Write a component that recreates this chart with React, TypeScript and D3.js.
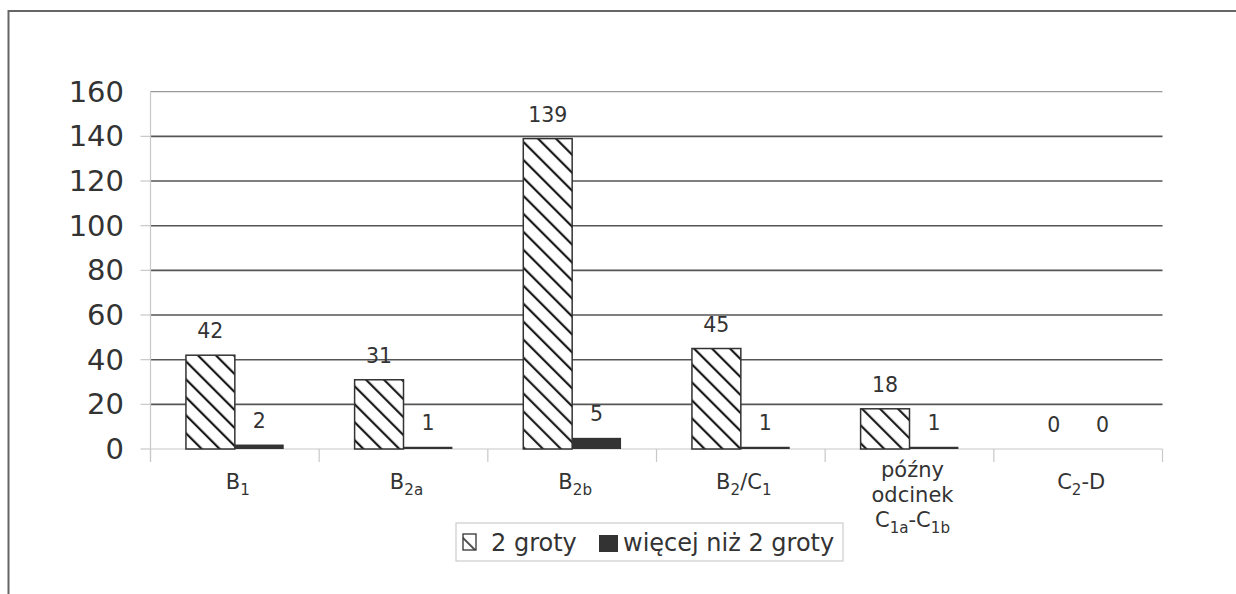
import React from "react";
import * as d3 from "d3";

const categories = ["B1", "B2a", "B2b", "B2/C1", "późny odcinek C1a-C1b", "C2-D"];
const series1Name = "2 groty";
const series2Name = "więcej niż 2 groty";
const series1 = [42, 31, 139, 45, 18, 0];
const series2 = [2, 1, 5, 1, 1, 0];
const yTicks = [0, 20, 40, 60, 80, 100, 120, 140, 160];

// Label pieces: [text, isSubscript]
const labelLines: [string, boolean][][][] = [
  [[["B", false], ["1", true]]],
  [[["B", false], ["2a", true]]],
  [[["B", false], ["2b", true]]],
  [[["B", false], ["2", true], ["/C", false], ["1", true]]],
  [
    [["późny", false]],
    [["odcinek", false]],
    [["C", false], ["1a", true], ["-C", false], ["1b", true]],
  ],
  [[["C", false], ["2", true], ["-D", false]]],
];

const W = 1236;
const H = 594;
const plotLeft = 150.5;
const plotRight = 1162.5;
const plotTop = 91.7;
const plotBottom = 449;
const FONT = "'DejaVu Sans', sans-serif";
const TXT = "#333";

export default function App() {
  const x0 = d3.scaleBand<number>().domain(d3.range(categories.length)).range([plotLeft, plotRight]).paddingInner(0).paddingOuter(0);
  const bw = x0.bandwidth();
  const barW = bw / 3.45;
  const y = d3.scaleLinear().domain([0, 160]).range([plotBottom, plotTop]);

  const renderPieces = (pieces: [string, boolean][], fs: number) =>
    pieces.map(([t, sub], i) => {
      const prev = i > 0 ? pieces[i - 1][1] : false;
      let dy = 0;
      if (sub && !prev) dy = fs * 0.3;
      else if (!sub && prev) dy = -fs * 0.3;
      return (
        <tspan key={i} dy={dy} fontSize={sub ? fs * 0.72 : fs}>
          {t}
        </tspan>
      );
    });

  return (
    <svg width={W} height={H} style={{ position: "absolute", left: 0, top: 0, background: "#fff" }} fontFamily={FONT}>
      <defs>
        <pattern id="hatch" patternUnits="userSpaceOnUse" width={12.7} height={12.7} patternTransform="rotate(-45)">
          <rect width={12.7} height={12.7} fill="#fff" />
          <line x1={3} y1={0} x2={3} y2={12.7} stroke="#1a1a1a" strokeWidth={2.2} />
        </pattern>
        <pattern id="hatchSmall" patternUnits="userSpaceOnUse" width={14} height={14} patternTransform="rotate(-45)">
          <rect width={14} height={14} fill="#fff" />
          <line x1={3} y1={0} x2={3} y2={14} stroke="#222" strokeWidth={1.6} />
        </pattern>
      </defs>
      {/* outer frame */}
      <line x1={8.5} y1={11} x2={W} y2={11} stroke="#666" strokeWidth={2} />
      <line x1={8.5} y1={10} x2={8.5} y2={H} stroke="#666" strokeWidth={2} />

      {/* gridlines */}
      {yTicks.filter((t) => t > 0).map((t) => (
        <line
          key={t}
          x1={plotLeft}
          x2={plotRight}
          y1={y(t)}
          y2={y(t)}
          stroke={t === 160 ? "#999" : "#555"}
          strokeWidth={t === 160 ? 1.2 : 1.6}
        />
      ))}

      {/* y axis */}
      <line x1={plotLeft} x2={plotLeft} y1={plotTop} y2={plotBottom + 13} stroke="#c8c8c8" strokeWidth={1.2} />
      {yTicks.map((t) => (
        <g key={t}>
          {t < 160 && <line x1={plotLeft - 10} x2={plotLeft} y1={y(t)} y2={y(t)} stroke="#c8c8c8" strokeWidth={1.2} />}
          <text x={124} y={y(t)} textAnchor="end" dominantBaseline="central" fontSize={29} fill={TXT}>
            {t}
          </text>
        </g>
      ))}

      {/* x axis */}
      <line x1={plotLeft} x2={plotRight} y1={plotBottom} y2={plotBottom} stroke="#c8c8c8" strokeWidth={1.2} />
      {d3.range(categories.length + 1).map((i) => {
        const xx = plotLeft + i * bw;
        return <line key={i} x1={xx} x2={xx} y1={plotBottom} y2={plotBottom + 13} stroke="#c8c8c8" strokeWidth={1.2} />;
      })}

      {/* bars */}
      {categories.map((c, i) => {
        const cx = (x0(i) as number) + bw / 2;
        const v1 = series1[i];
        const v2 = series2[i];
        const x1 = cx - barW;
        const x2 = cx;
        return (
          <g key={c}>
            {v1 > 0 && (
              <rect x={x1} y={y(v1)} width={barW} height={y(0) - y(v1)} fill="url(#hatch)" stroke="#333" strokeWidth={1.5} />
            )}
            {v2 > 0 && <rect x={x2} y={y(v2)} width={barW} height={y(0) - y(v2)} fill="#333" />}
            <text x={x1 + barW / 2} y={y(v1) - 17} textAnchor="middle" fontSize={20.5} fill={TXT}>
              {v1}
            </text>
            <text x={x2 + barW / 2} y={y(v2) - 17} textAnchor="middle" fontSize={20.5} fill={TXT}>
              {v2}
            </text>
          </g>
        );
      })}

      {/* category labels */}
      {labelLines.map((lines, i) => {
        const cx = (x0(i) as number) + bw / 2 + 3;
        const multi = lines.length > 1;
        return lines.map((pieces, li) => (
          <text
            key={`${i}-${li}`}
            x={cx}
            y={multi ? 477 + li * 25 : 489}
            textAnchor="middle"
            fill={TXT}
            fontSize={21}
          >
            {renderPieces(pieces, 21)}
          </text>
        ));
      })}

      {/* legend */}
      <rect x={456} y={523} width={387} height={38} fill="#fff" stroke="#ccc" strokeWidth={1.2} />
      <rect x={463} y={534} width={13} height={16} fill="url(#hatchSmall)" stroke="#333" strokeWidth={1.3} />
      <text x={491} y={551} fontSize={24} fill={TXT}>
        {series1Name}
      </text>
      <rect x={599} y={535} width={19} height={17} fill="#333" />
      <text x={623} y={551} fontSize={24} fill={TXT}>
        {series2Name}
      </text>
    </svg>
  );
}
